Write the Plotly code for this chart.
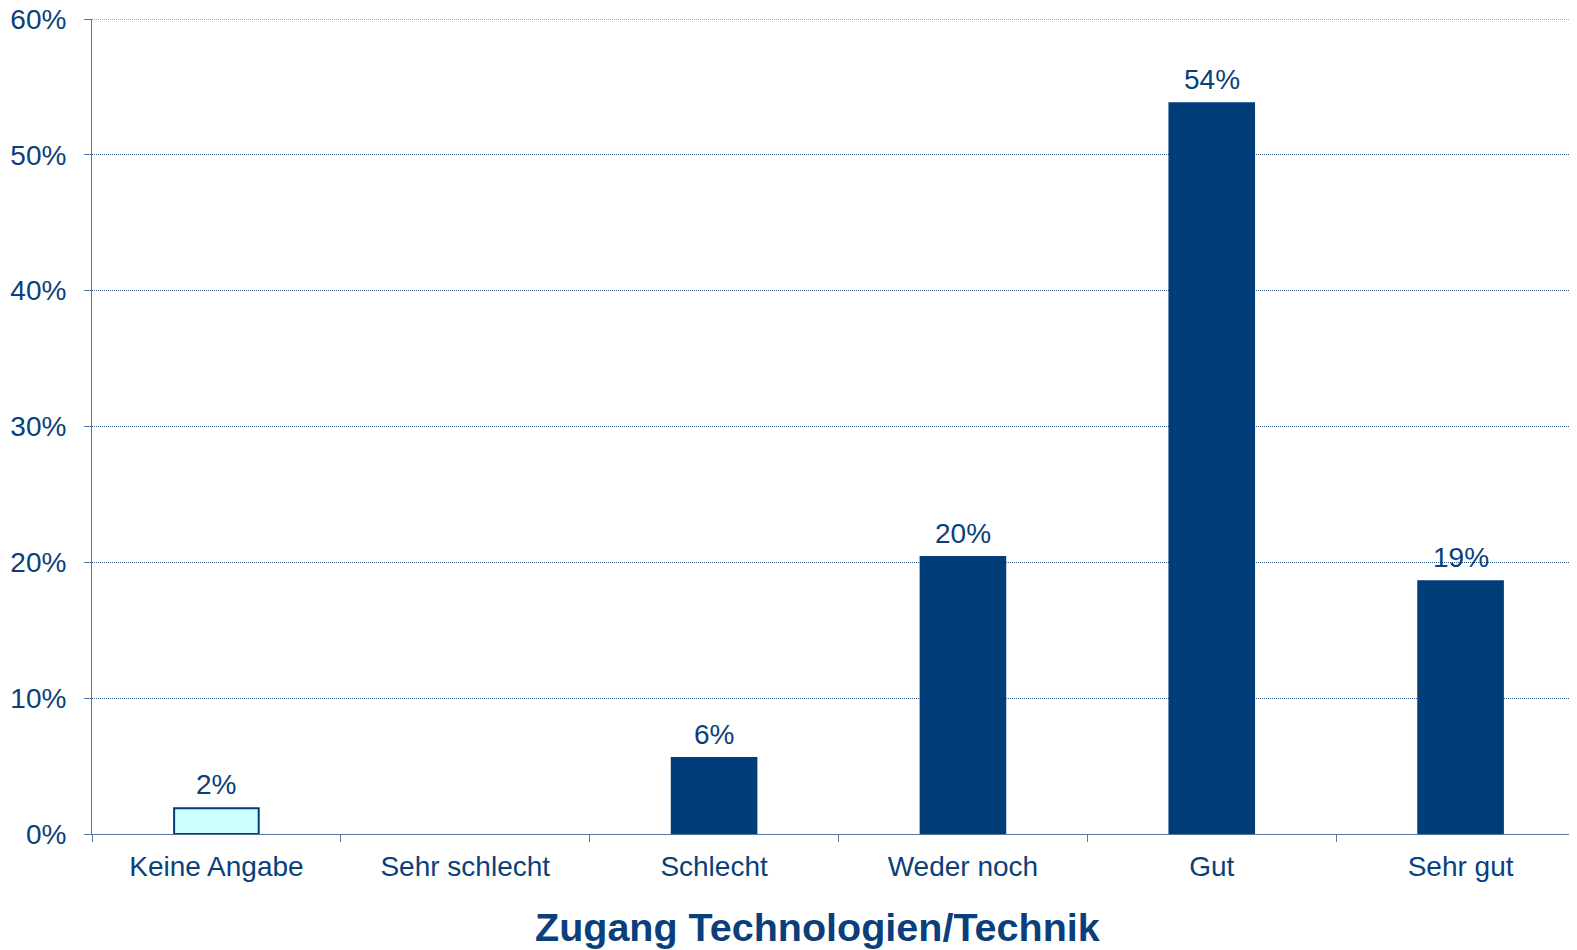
import plotly.graph_objects as go

categories = ["Keine Angabe", "Sehr schlecht", "Schlecht", "Weder noch", "Gut", "Sehr gut"]
values = [1.9, 0, 5.6, 20.4, 53.8, 18.6]
labels = ["2%", "", "6%", "20%", "54%", "19%"]
y_ticks = [0, 10, 20, 30, 40, 50, 60]
y_tick_labels = ["0%", "10%", "20%", "30%", "40%", "50%", "60%"]

navy = "#003D79"
text_col = "#0B3F7B"
axis_col = "#5577A0"
grid_col = "#2A5584"

fills = ["#CCFFFF"] + [navy] * 5
borders = [2 if v > 0 else 0 for v in values]

fig = go.Figure(go.Bar(
    x=categories, y=values,
    marker=dict(color=fills, line=dict(color=navy, width=borders)),
))

# value labels above bars
for c, v, t in zip(categories, values, labels):
    if t:
        fig.add_annotation(x=c, y=v, text=t, showarrow=False, yanchor="bottom",
                           yshift=6, font=dict(size=28, color=text_col))

fig.add_annotation(text="<b>Zugang Technologien/Technik</b>", xref="paper", yref="paper",
                   x=0.486, y=-0.114, xanchor="center", yanchor="middle", showarrow=False,
                   font=dict(size=39.5, color=text_col))

# plotly skips the gridline at the top edge, draw it by hand
fig.add_shape(type="line", xref="paper", yref="y", x0=0, x1=1, y0=y_ticks[-1], y1=y_ticks[-1],
              line=dict(color=grid_col, width=1, dash="1px,1px"))

# page body has an 8px margin, so the plot is offset by that amount
fig.update_layout(
    width=1577, height=950,
    margin=dict(l=84, r=0, t=11, b=124),
    plot_bgcolor="white", paper_bgcolor="white",
    bargap=0.66, showlegend=False,
    font=dict(family="Liberation Sans, Arial", color=text_col),
)
fig.update_xaxes(
    automargin=False,
    showline=True, linecolor=axis_col, linewidth=1,
    ticks="outside", tickson="boundaries", ticklen=7, tickcolor=axis_col,
    tickfont=dict(size=28, color=text_col), ticklabelstandoff=7,
)
fig.update_yaxes(
    automargin=False, ticklabeloverflow="allow",
    range=[0, 60], tickvals=y_ticks, ticktext=y_tick_labels,
    showline=True, linecolor=axis_col, linewidth=1,
    ticks="outside", ticklen=7, tickcolor=axis_col,
    tickfont=dict(size=28, color=text_col), ticklabelstandoff=12,
    showgrid=True, gridcolor=grid_col, gridwidth=1, griddash="1px,1px",
    zeroline=False,
)

fig.write_html("out.html")
